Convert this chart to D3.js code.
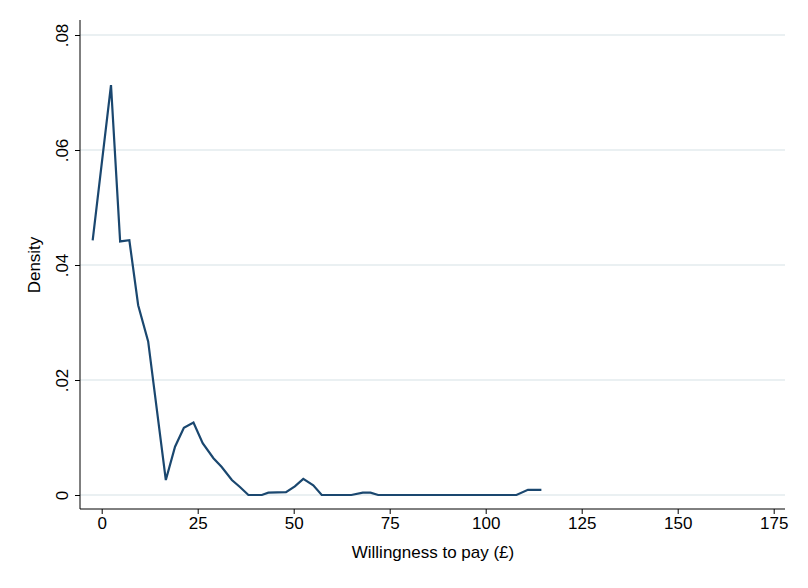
<!DOCTYPE html><html><head><script src="https://cdn.jsdelivr.net/npm/d3@7"></script>
<style>body{margin:0;background:#fff}</style></head><body><svg id="c" width="808" height="588"></svg>
<script>
const xVals=[-2.35,2.42,4.8,7.2,9.5,12.1,16.7,19.1,21.4,23.9,26.3,29.1,31.2,33.9,36.0,38.2,41.7,43.4,48.0,50.3,52.5,55.1,57.3,65,68,70,72,108,111,114.5];
const density=[0.0443,0.0713,0.0441,0.0443,0.033,0.0267,0.0026,0.0084,0.0117,0.0126,0.009,0.0064,0.0049,0.0026,0.0014,0,0,0.0004,0.0005,0.0015,0.0028,0.0017,0,0,0.0004,0.0004,0,0,0.0009,0.0009];
const xTicks=[0,25,50,75,100,125,150,175];
const yTicks=[0,0.02,0.04,0.06,0.08];
const svg=d3.select("#c");
svg.append("rect").attr("x",0).attr("y",0).attr("width",808).attr("height",588).attr("fill","#fff");
const L=80,R=785,T=20,B=509;
const x=d3.scaleLinear().domain([0,175]).range([101.7,773.7]);
const y=d3.scaleLinear().domain([0,0.08]).range([495,35]);
svg.selectAll(".g").data(yTicks).enter().append("line").attr("x1",L).attr("x2",R).attr("y1",d=>y(d)).attr("y2",d=>y(d)).attr("stroke","#eaf0f2").attr("stroke-width",2);
const xa=svg.append("g").attr("transform",`translate(0,${B})`).call(d3.axisBottom(x).tickValues(xTicks).tickSize(5).tickFormat(d3.format("d")));
xa.select(".domain").attr("d",`M${L},0H${R}`);
const ya=svg.append("g").attr("transform",`translate(${L},0)`).call(d3.axisLeft(y).tickValues(yTicks).tickSize(5).tickFormat(d=>d===0?"0":d3.format(".2f")(d).replace(/^0/,"")));
ya.select(".domain").attr("d",`M0,${T}V${B}`);
svg.selectAll(".tick text").attr("font-family","Arial, Liberation Sans").attr("font-size",17).attr("fill","#000");
svg.selectAll(".domain,.tick line").attr("stroke","#000");
ya.selectAll(".tick text").attr("transform",function(d){return `rotate(-90,-12,${0})`}).attr("x",-12).attr("dy","0").attr("text-anchor","middle").attr("y",0);
svg.append("path").datum(xVals.map((v,i)=>[v,density[i]])).attr("d",d3.line().x(d=>x(d[0])).y(d=>y(d[1]))).attr("fill","none").attr("stroke","#1a476f").attr("stroke-width",2.2);
svg.append("text").attr("x",433).attr("y",558).attr("text-anchor","middle").attr("font-family","Arial, Liberation Sans").attr("font-size",17).text("Willingness to pay (£)");
svg.append("text").attr("transform","translate(40,265) rotate(-90)").attr("text-anchor","middle").attr("font-family","Arial, Liberation Sans").attr("font-size",17).text("Density");
</script></body></html>
